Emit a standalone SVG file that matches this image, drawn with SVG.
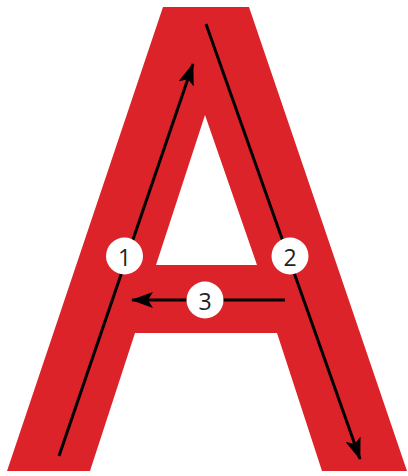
<svg xmlns="http://www.w3.org/2000/svg" width="408" height="476" viewBox="0 0 408 476">
<style>
.letter{fill:#DC232A;fill-rule:evenodd}
.conn{stroke:#000;stroke-width:3;fill:none;marker-end:url(#ah)}
.badge{fill:#fff}
.num{font-family:"Open Sans","Liberation Sans",sans-serif;font-size:23px;fill:#222;text-anchor:middle;dominant-baseline:central}
</style>
<defs>
<marker id="ah" viewBox="0 0 22 16" refX="21" refY="8" markerWidth="22" markerHeight="16" markerUnits="userSpaceOnUse" orient="auto">
<path d="M0,0 L22,8 L0,16 L5,8 z" fill="#000"/>
</marker>
</defs>
<rect width="408" height="476" fill="#fff"/>
<g id="letter-A">
<path class="letter" d="M163,7 L249,7 L407,471 L322,471 L277,333 L135,333 L90,471 L7,471 Z M205,115 L257,265 L156,265 Z"/>
</g>
<g id="connectors">
<line class="conn" x1="59" y1="456" x2="193" y2="64"/>
<line class="conn" x1="206" y1="24" x2="360" y2="459"/>
<line class="conn" x1="285" y1="300" x2="132" y2="300"/>
</g>
<g id="step1"><circle class="badge" cx="124.5" cy="256" r="18.5"/><text class="num" x="124.5" y="257">1</text></g>
<g id="step2"><circle class="badge" cx="290" cy="256" r="18.5"/><text class="num" x="290" y="257">2</text></g>
<g id="step3"><circle class="badge" cx="205" cy="300" r="18.5"/><text class="num" x="205" y="301">3</text></g>
</svg>
